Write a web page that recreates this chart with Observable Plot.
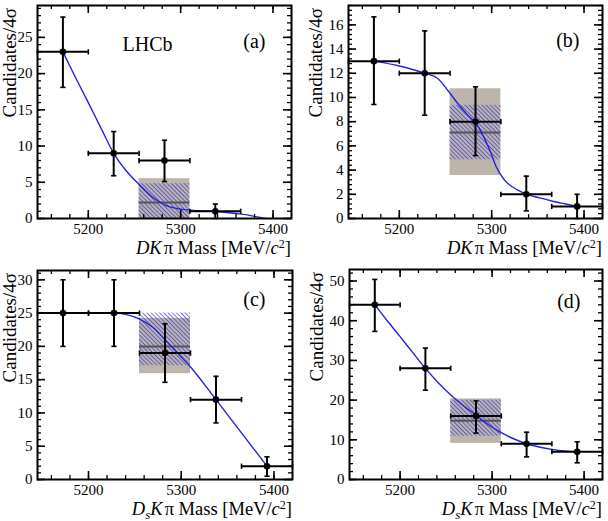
<!DOCTYPE html>
<html>
<head>
<meta charset="utf-8">
<script src="https://cdn.jsdelivr.net/npm/d3@7"></script>
<script src="https://cdn.jsdelivr.net/npm/@observablehq/plot@0.6"></script>
<style>
  body { margin: 0; background: #fff; }
  #grid { display: grid; grid-template-columns: 304px 304px; grid-template-rows: 260px 261px; width: 608px; height: 521px; }
  #grid svg { display: block; }
</style>
</head>
<body>
<svg width="0" height="0" style="position:absolute">
  <defs>
    <pattern id="hatch" patternUnits="userSpaceOnUse" width="3" height="3" patternTransform="rotate(-45)">
      <line x1="0" y1="0" x2="0" y2="3" stroke="#2b2bd4" stroke-width="1.3"/>
    </pattern>
  </defs>
</svg>
<div id="grid"></div>
<script>
// Mass bins (MeV/c^2)
const binLow = [5145, 5200, 5255, 5310, 5365];
const binHigh = [5200, 5255, 5310, 5365, 5420];
const binCenter = [5172.5, 5227.5, 5282.5, 5337.5, 5392.5];
const signalBin = 2;
const massTicks = [5200, 5300, 5400];

// (a) DKπ
const countsA = [23, 9, 8, 1, null];
const upperA = [27.8, 12.0, 10.8, 2.0, null];
const lowerA = [18.1, 5.9, 5.1, 0, null];
const fitMassA = [5172.5, 5186, 5200, 5214, 5227.5, 5241, 5255, 5270, 5285, 5300, 5310, 5325, 5338, 5352, 5366, 5380, 5392];
const fitA = [23, 19.5, 16, 12.4, 9, 6.6, 4.7, 2.9, 1.75, 1.3, 1.15, 1.05, 0.95, 0.8, 0.6, 0.3, 0];
const systA = [0, 5.5];
const statA = [0, 4.8];
const expectA = 2.2;
const yTicksA = [0, 5, 10, 15, 20, 25];

// (b) DKπ
const countsB = [13, 12, 8, 2, 1];
const upperB = [16.66, 15.5, 10.88, 3.5, 2.0];
const lowerB = [9.42, 8.54, 5.2, 0.63, 0];
const fitMassB = [5172.5, 5200, 5227.5, 5241.6, 5252.4, 5263.3, 5274.1, 5283.2, 5292.3, 5299.5, 5304.9, 5314, 5328.4, 5338, 5352, 5365, 5380, 5392.5];
const fitB = [13, 12.6, 12, 11.57, 10.6, 9.5, 8.54, 7.85, 6.6, 5.37, 4.27, 3.17, 2.34, 2.0, 1.7, 1.45, 1.2, 1.0];
const systB = [3.55, 10.72];
const statB = [4.85, 9.35];
const expectB = 7.1;
const yTicksB = [0, 2, 4, 6, 8, 10, 12, 14, 16];

// (c) DsKπ
const countsC = [25, 25, 19, 12, 2];
const upperC = [30, 30, 23.4, 15.5, 3.4];
const lowerC = [20, 20, 14.6, 8.5, 0.5];
const fitMassC = [5172.5, 5200, 5227.5, 5240, 5255, 5270, 5282.5, 5296, 5310, 5337.5, 5365, 5392.5];
const fitC = [25, 25, 25, 24.8, 24.1, 22.8, 21, 19, 16.9, 12, 7, 2];
const systC = [15.9, 24.2];
const statC = [17.1, 25.0];
const expectC = 20.0;
const yTicksC = [0, 5, 10, 15, 20, 25, 30];

// (d) DsKπ
const countsD = [44, 28, 16, 9, 7];
const upperD = [50.4, 33.1, 19.8, 11.9, 9.5];
const lowerD = [37.3, 22.5, 11.7, 5.7, 4.2];
const fitMassD = [5172.5, 5186, 5200, 5214, 5227.5, 5241, 5255, 5270, 5282.5, 5296, 5310, 5324, 5337.5, 5351, 5365, 5379, 5392.5];
const fitD = [44, 40, 36, 31.9, 28, 24.5, 21.3, 18.4, 16.2, 13.8, 11.8, 10.2, 9, 8.2, 7.6, 7.2, 7];
const systD = [9.1, 20.3];
const statD = [10.9, 20.0];
const expectD = 14.8;
const yTicksD = [0, 10, 20, 30, 40, 50];

const serif = "Liberation Serif, Times New Roman, serif";

// error-bar end caps as custom symbols
const hCap = {draw(ctx, size) { const r = Math.sqrt(size / Math.PI); ctx.moveTo(-r, 0); ctx.lineTo(r, 0); }};
const vCap = {draw(ctx, size) { const r = Math.sqrt(size / Math.PI); ctx.moveTo(0, -r); ctx.lineTo(0, r); }};

function panel(o) {
  const W = 304, H = o.height;
  const [mt, mr, mb, ml] = o.margin;
  const fw = W - ml - mr, fh = H - mt - mb;

  const rows = binCenter.map((x, i) => ({
    mid: x, lo: binLow[i], hi: binHigh[i], y: o.counts[i], up: o.upper[i], dn: o.lower[i]
  })).filter(d => d.y != null);
  const fitRows = o.fitMass.map((m, i) => ({m, v: o.fit[i]}));
  const box = [{
    x1: binLow[signalBin], x2: binHigh[signalBin],
    s1: o.syst[0], s2: o.syst[1], t1: o.stat[0], t2: o.stat[1], e: o.expect
  }];

  const xMinor = d3.range(5160, 5420, 20);
  const yMinor = d3.range(0, o.yMax + 1e-9, o.yMinor);

  const svg = Plot.plot({
    width: W, height: H,
    marginTop: mt, marginRight: mr, marginBottom: mb, marginLeft: ml,
    style: {fontFamily: serif, fontSize: "15px", background: "white", color: "black", overflow: "visible"},
    x: {domain: [5145, 5420]},
    y: {domain: [0, o.yMax]},
    marks: [
      Plot.rect(box, {x1: "x1", x2: "x2", y1: "s1", y2: "s2", fill: "#bdb5ab"}),
      Plot.rect(box, {x1: "x1", x2: "x2", y1: "t1", y2: "t2", fill: "url(#hatch)"}),
      Plot.ruleY(box, {x1: "x1", x2: "x2", y: "e", stroke: "#555", strokeWidth: 2}),
      Plot.line(fitRows, {x: "m", y: "v", stroke: "#2323dd", strokeWidth: 1.4, curve: "monotone-x", clip: "frame"}),
      Plot.ruleX(rows, {x: "mid", y1: "dn", y2: "up", stroke: "black", strokeWidth: 2}),
      Plot.ruleY(rows, {y: "y", x1: "lo", x2: "hi", stroke: "black", strokeWidth: 2}),
      Plot.dot(rows, {x: "mid", y: "up", symbol: hCap, r: 2.6, fill: "none", stroke: "black", strokeWidth: 1.6}),
      Plot.dot(rows, {x: "mid", y: "dn", symbol: hCap, r: 2.6, fill: "none", stroke: "black", strokeWidth: 1.6}),
      Plot.dot(rows, {x: "lo", y: "y", symbol: vCap, r: 2.6, fill: "none", stroke: "black", strokeWidth: 1.6}),
      Plot.dot(rows, {x: "hi", y: "y", symbol: vCap, r: 2.6, fill: "none", stroke: "black", strokeWidth: 1.6}),
      Plot.dot(rows, {x: "mid", y: "y", r: 3.3, fill: "black", stroke: "none"}),
      // inward ticks on all four sides
      Plot.tickX(xMinor, {x: d => d, insetTop: fh - 4, stroke: "black", strokeWidth: 1.3}),
      Plot.tickX(xMinor, {x: d => d, insetBottom: fh - 4, stroke: "black", strokeWidth: 1.3}),
      Plot.tickX(massTicks, {x: d => d, insetTop: fh - 8, stroke: "black", strokeWidth: 1.6}),
      Plot.tickX(massTicks, {x: d => d, insetBottom: fh - 8, stroke: "black", strokeWidth: 1.6}),
      Plot.tickY(yMinor, {y: d => d, insetRight: fw - 4, stroke: "black", strokeWidth: 1.3}),
      Plot.tickY(yMinor, {y: d => d, insetLeft: fw - 4, stroke: "black", strokeWidth: 1.3}),
      Plot.tickY(o.yTicks, {y: d => d, insetRight: fw - 8, stroke: "black", strokeWidth: 1.6}),
      Plot.tickY(o.yTicks, {y: d => d, insetLeft: fw - 8, stroke: "black", strokeWidth: 1.6}),
      Plot.frame({stroke: "black", strokeWidth: 2}),
      Plot.axisX({ticks: massTicks, tickSize: 0, tickPadding: 5, tickFormat: d => String(d), label: null, fontSize: 15}),
      Plot.axisY({ticks: o.yTicks, tickSize: 0, tickPadding: 5, tickFormat: d => String(d), label: null, fontSize: 15}),
      Plot.text([o.tag], {frameAnchor: "top-right", text: d => d, textAnchor: "end", lineAnchor: "bottom",
        dx: o.tagPos[0], dy: o.tagPos[1], fontSize: 20, fill: "black"}),
      o.lhcb ? Plot.text(["LHCb"], {frameAnchor: "top-left", text: d => d, textAnchor: "middle", lineAnchor: "bottom",
        dx: 110, dy: 45, fontSize: 20, fill: "black"}) : null
    ]
  });

  const s = d3.select(svg);
  // x-axis title with italics, subscript and superscript
  const xt = s.append("text")
    .attr("x", W - mr).attr("y", H - mb + 35.5)
    .attr("text-anchor", "end").attr("font-family", serif).attr("font-size", 18.5).attr("fill", "black");
  if (o.strange) {
    xt.append("tspan").attr("font-style", "italic").text("D");
    xt.append("tspan").attr("font-style", "italic").attr("font-size", 13).attr("dy", 4).text("s");
    xt.append("tspan").attr("font-style", "italic").attr("dy", -4).text("K");
  } else {
    xt.append("tspan").attr("font-style", "italic").text("DK");
  }
  xt.append("tspan").attr("dx", 2).text("π Mass [MeV/");
  xt.append("tspan").attr("font-style", "italic").text("c");
  xt.append("tspan").attr("font-size", 12).attr("dy", -5.5).text("2");
  xt.append("tspan").attr("dy", 5.5).text("]");

  // y-axis title
  s.append("text")
    .attr("transform", `translate(${o.yTitleX},${mt + 3}) rotate(-90)`)
    .attr("text-anchor", "end").attr("font-family", serif).attr("font-size", 19).attr("fill", "black")
    .text("Candidates/4σ");

  return svg;
}

const grid = document.getElementById("grid");
grid.append(panel({
  height: 260, margin: [5, 13, 42, 37], yMax: 29.4, yTicks: yTicksA, yMinor: 1,
  counts: countsA, upper: upperA, lower: lowerA, fitMass: fitMassA, fit: fitA,
  syst: systA, stat: statA, expect: expectA, tag: "(a)", tagPos: [-26, 42], lhcb: true, strange: false, yTitleX: 16
}));
grid.append(panel({
  height: 260, margin: [5, 6, 42, 44], yMax: 17.6, yTicks: yTicksB, yMinor: 0.4,
  counts: countsB, upper: upperB, lower: lowerB, fitMass: fitMassB, fit: fitB,
  syst: systB, stat: statB, expect: expectB, tag: "(b)", tagPos: [-23, 41], lhcb: false, strange: false, yTitleX: 18
}));
grid.append(panel({
  height: 261, margin: [10, 12, 42, 37], yMax: 31.4, yTicks: yTicksC, yMinor: 1,
  counts: countsC, upper: upperC, lower: lowerC, fitMass: fitMassC, fit: fitC,
  syst: systC, stat: statC, expect: expectC, tag: "(c)", tagPos: [-27, 35], lhcb: false, strange: true, yTitleX: 16
}));
grid.append(panel({
  height: 261, margin: [9, 6, 42, 45], yMax: 52.9, yTicks: yTicksD, yMinor: 2,
  counts: countsD, upper: upperD, lower: lowerD, fitMass: fitMassD, fit: fitD,
  syst: systD, stat: statD, expect: expectD, tag: "(d)", tagPos: [-22, 38], lhcb: false, strange: true, yTitleX: 19
}));
</script>
</body>
</html>
